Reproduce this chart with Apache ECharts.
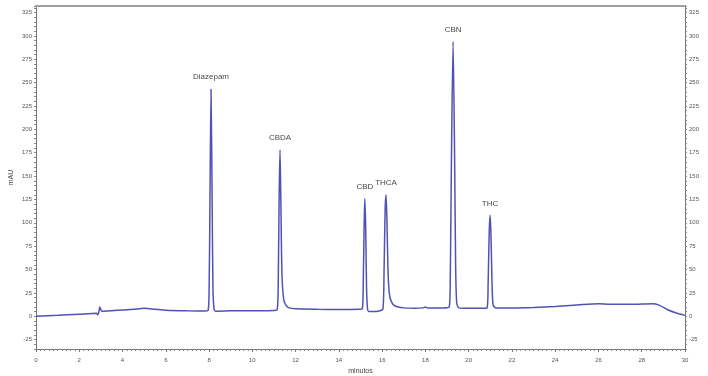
<!DOCTYPE html>
<html>
<head>
<meta charset="utf-8">
<script src="https://cdn.jsdelivr.net/npm/echarts@6/dist/echarts.min.js"></script>
<style>
  html, body { margin: 0; padding: 0; background: #fff; }
  #chart { width: 708px; height: 376px; }
</style>
</head>
<body>
<div id="chart"></div>
<script>
// cromatograma: tiempo (min) / absorbancia (mAU)
var signal = [
    [0, 0], [1, 1], [2, 2.2], [2.8, 3.2], [2.85, 1.5], [2.9, 4], [2.95, 10], [3.0, 7], [3.05, 5.5],
    [3.5, 6], [4, 6.8], [4.5, 7.5], [5.0, 8.5], [5.5, 7.5], [6, 6.5], [7, 5.8], [7.8, 5.6],
    // Diazepam
    [7.95, 6], [8.0, 25], [8.04, 120], [8.09, 243], [8.14, 130], [8.18, 30], [8.23, 8], [8.3, 5.5],
    [9, 5.8], [10, 6], [11.0, 6.3],
    // CBDA
    [11.15, 7], [11.2, 40], [11.24, 130], [11.28, 178], [11.32, 120], [11.37, 45], [11.45, 18],
    [11.55, 12], [11.7, 9], [12, 8], [13, 7.5], [14, 7.3], [14.9, 7.5],
    // CBD
    [15.08, 8], [15.13, 40], [15.17, 100], [15.2, 126], [15.24, 95], [15.28, 30], [15.33, 7],
    [15.4, 5], [15.6, 5], [15.9, 6],
    // THCA
    [16.04, 8], [16.09, 50], [16.14, 115], [16.18, 130], [16.22, 105], [16.27, 50], [16.33, 25],
    [16.42, 16], [16.6, 11], [17, 9], [17.5, 8.5], [17.9, 9], [18, 10], [18.1, 9], [18.8, 9],
    // CBN
    [19.1, 10], [19.15, 40], [19.2, 160], [19.28, 294], [19.35, 170], [19.4, 50], [19.45, 14],
    [19.55, 9], [20, 8.5], [20.6, 8.5],
    // THC
    [20.85, 9], [20.9, 35], [20.95, 90], [20.99, 108], [21.03, 88], [21.08, 35], [21.13, 12],
    [21.25, 9], [22, 9], [23, 9.5], [24, 10.5], [25, 12], [26, 13.5], [26.5, 13], [27.5, 12.8],
    [28.5, 13.5], [28.8, 12], [29.2, 7], [29.6, 3.5], [30, 1]
];

// picos identificados
var peakNames = ['Diazepam', 'CBDA', 'CBD', 'THCA', 'CBN', 'THC'];
var peakTimes = [8.09, 11.28, 15.2, 16.18, 19.28, 20.99];
var peakHeights = [243, 178, 126, 130, 294, 108];

var yTickStep = 25;   // etiquetas cada 25 mAU

var peaks = [];
for (var i = 0; i < peakNames.length; i++) {
    peaks.push({ name: peakNames[i], value: [peakTimes[i], peakHeights[i]] });
}

var yLabelFmt = function(v) {
    return (Math.round(v) % yTickStep === 0) ? String(Math.round(v)) : '';
};

var myChart = echarts.init(document.getElementById('chart'));
var option = {
    animation: false,
    grid: { left: 36, right: 23, top: 6, bottom: 27, containLabel: false, outerBoundsMode: 'none' },
    xAxis: [
        {
            type: 'value', min: 0, max: 30, interval: 2,
            name: 'minutos', nameLocation: 'middle', nameGap: 15,
            nameTextStyle: { fontSize: 7, color: '#444', fontFamily: 'Liberation Sans' },
            axisLine: { onZero: false, lineStyle: { color: '#777', width: 1 } },
            axisTick: { length: 3, lineStyle: { color: '#777' } },
            minorTick: { show: true, splitNumber: 10, length: 2, lineStyle: { color: '#888' } },
            axisLabel: { fontSize: 6, color: '#555', fontFamily: 'Liberation Sans' },
            splitLine: { show: false }
        },
        {
            type: 'value', position: 'top', min: 0, max: 30,
            axisLine: { onZero: false, lineStyle: { color: '#a0a0a0', width: 2 } },
            axisTick: { show: false }, axisLabel: { show: false }, splitLine: { show: false }
        }
    ],
    yAxis: [
        {
            type: 'value', min: -35, max: 332, interval: 5,
            name: 'mAU', nameLocation: 'middle', nameGap: 21, nameRotate: 90, nameMoveOverlap: false,
            nameTextStyle: { fontSize: 7, color: '#444', fontFamily: 'Liberation Sans' },
            axisLine: { show: true, onZero: false, lineStyle: { color: '#777' } },
            axisTick: { show: true, length: 2, lineStyle: { color: '#888' } },
            axisLabel: { fontSize: 6, color: '#555', fontFamily: 'Liberation Sans', margin: 4, formatter: yLabelFmt },
            splitLine: { show: false }
        },
        {
            type: 'value', position: 'right', min: -35, max: 332, interval: 5,
            axisLine: { show: true, onZero: false, lineStyle: { color: '#777' } },
            axisTick: { show: true, length: 2, lineStyle: { color: '#888' } },
            axisLabel: { fontSize: 6, color: '#555', fontFamily: 'Liberation Sans', margin: 4, formatter: yLabelFmt },
            splitLine: { show: false }
        }
    ],
    series: [
        {
            type: 'line',
            data: signal,
            showSymbol: false,
            smooth: 0.25,
            lineStyle: { color: '#5252b4', width: 1.5 },
            z: 3
        },
        {
            type: 'scatter',
            data: peaks,
            symbolSize: 0,
            label: {
                show: true, position: 'top', distance: 8,
                formatter: '{b}', fontSize: 8, color: '#111', fontFamily: 'Liberation Sans'
            },
            z: 4
        }
    ]
};
myChart.setOption(option);
</script>
</body>
</html>
